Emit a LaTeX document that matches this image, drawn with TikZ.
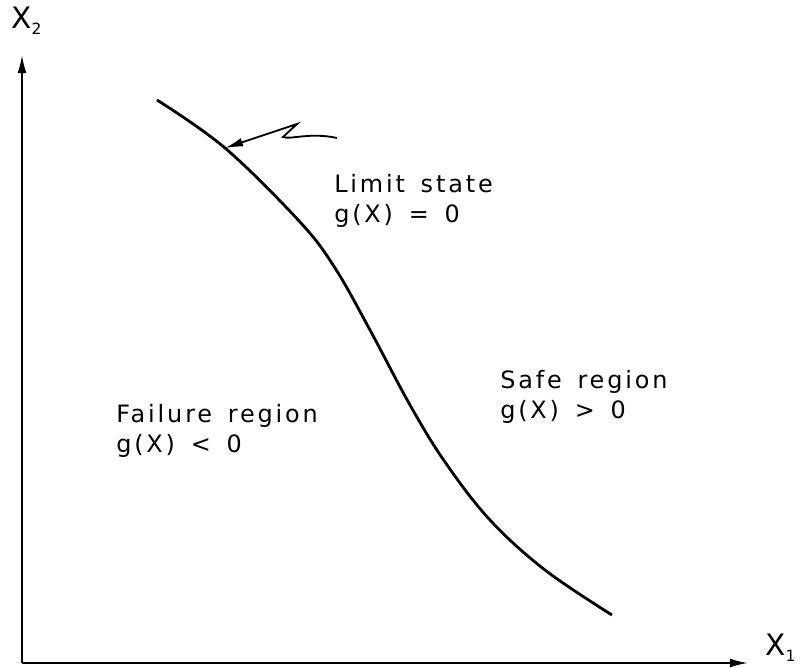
\documentclass[tikz,border=0pt]{standalone}
\usepackage{fontspec}
\setmainfont[LetterSpace=12,WordSpace=1.5]{DejaVu Sans}
\newfontfamily\axfont{DejaVu Sans}
\usetikzlibrary{arrows.meta,positioning}

\begin{document}
\begin{tikzpicture}[>={Latex[length=4.5mm,width=2.2mm]},x=0.025cm,y=-0.025cm,
  lbl/.style={align=left,anchor=north west,inner sep=0pt,font=\fontsize{17}{21.3}\selectfont},
  axlbl/.style={inner sep=0pt,anchor=west,font=\axfont\fontsize{21}{22}\selectfont}]
\useasboundingbox (0,0) rectangle (805,667);
\coordinate (O) at (22,663);
\coordinate (xend) at (748,663);
\coordinate (yend) at (22,55);
\draw[->,line width=1.3pt] (O)--(xend);
\draw[->,line width=1.3pt] (O)--(yend);
\node[axlbl] (x1) at (765,648) {X\raisebox{-4pt}{\fontsize{11}{11}\selectfont 1}};
\node[axlbl] (x2) at (11,21) {X\raisebox{-4pt}{\fontsize{11}{11}\selectfont 2}};
% limit state curve
\draw[line width=2pt] plot[smooth,tension=0.6] coordinates {(157,100) (225,148) (300,222) (335,268) (370,330) (410,405) (445,462) (490,520) (545,570) (612,615)};
\coordinate (tip) at (225,148);
\coordinate (tail) at (337,138);
\draw[->,line width=1.3pt] (tail) .. controls (310,132) and (290,140) .. (283,137) -- (297,124) -- (tip);
\node[lbl] (lim) at (334,174) {Limit state\\g(X) = 0};
\node[lbl] (safe) at (500,370) {Safe region\\g(X) > 0};
\node[lbl] (fail) at (116,404) {Failure region\\g(X) < 0};
\end{tikzpicture}
\end{document}
